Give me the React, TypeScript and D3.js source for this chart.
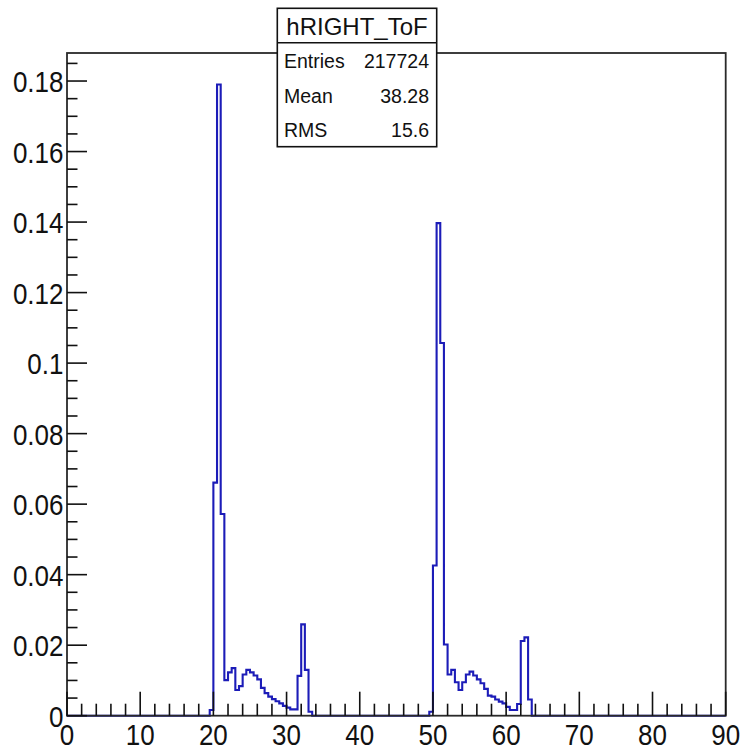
import React from "react";
import * as d3 from "d3";

// Histogram binning (hRIGHT_ToF): 180 bins of width 0.5 over [0, 90]
const binLow = 0;
const binHigh = 90;
const binWidth = 0.5;

// Normalised bin contents of the first bunch, starting at x = 19.5
const bunchAStart = 19.5;
const bunchA = [
  0.0016, 0.0661, 0.179, 0.0572, 0.0101, 0.0123, 0.0135, 0.0073, 0.0084, 0.0117,
  0.013, 0.0123, 0.0114, 0.0103, 0.0079, 0.0064, 0.0054, 0.0047, 0.0041, 0.0035,
  0.0028, 0.0023, 0.0018, 0.0018, 0.0113, 0.0259, 0.013, 0.0011,
];

// Normalised bin contents of the second bunch, starting at x = 49.5
const bunchBStart = 49.5;
const bunchB = [
  0.0011, 0.0426, 0.1397, 0.1057, 0.0202, 0.0117, 0.013, 0.0095, 0.0073, 0.0095,
  0.0117, 0.0125, 0.0114, 0.0103, 0.0092, 0.0076, 0.0057, 0.0054, 0.0046, 0.004,
  0.0035, 0.0025, 0.0016, 0.0016, 0.0033, 0.0212, 0.0222, 0.0046,
];

const xTickValues = [0, 10, 20, 30, 40, 50, 60, 70, 80, 90];
const yTickValues = [0, 0.02, 0.04, 0.06, 0.08, 0.1, 0.12, 0.14, 0.16, 0.18];
const yTickLabels = ["0", "0.02", "0.04", "0.06", "0.08", "0.1", "0.12", "0.14", "0.16", "0.18"];

const statsTitle = "hRIGHT_ToF";
const statsNames = ["Entries", "Mean", "RMS"];
const statsValues = ["217724", "38.28", "15.6"];

// y range follows ROOT's default: 5% headroom above the tallest bin
const yMax = 0.179 * 1.05;

const W = 745;
const H = 748;
const frame = { left: 67, right: 725.7, top: 53, bottom: 715.7 };
const font = "'Liberation Sans', Arial, Helvetica, sans-serif";
const histColor = "#1c1cb8";

function buildBins(): number[] {
  const n = Math.round((binHigh - binLow) / binWidth);
  const counts = new Array(n).fill(0);
  const place = (start: number, vals: number[]) => {
    const i0 = Math.round((start - binLow) / binWidth);
    vals.forEach((v, k) => {
      counts[i0 + k] = v;
    });
  };
  place(bunchAStart, bunchA);
  place(bunchBStart, bunchB);
  return counts;
}

export default function App() {
  const x = d3.scaleLinear().domain([binLow, binHigh]).range([frame.left, frame.right]);
  const y = d3.scaleLinear().domain([0, yMax]).range([frame.bottom, frame.top]);

  const counts = buildBins();
  const pts: [number, number][] = counts.map((c, i) => [binLow + i * binWidth, c]);
  pts.push([binHigh, counts[counts.length - 1]]);
  const path = d3
    .line<[number, number]>()
    .x((d) => x(d[0]))
    .y((d) => y(d[1]))
    .curve(d3.curveStepAfter)(pts) as string;

  const xMinor = d3.range(binLow, binHigh + 0.001, 2).filter((v) => v % 10 !== 0);
  const yMinor = d3.range(0, yMax, 0.005).filter((v) => Math.abs(v / 0.02 - Math.round(v / 0.02)) > 1e-6);

  const box = { x: 277.3, y: 8.3, w: 159.4, h: 138.4, sep: 42.7 };
  const rowBase = [68, 102.5, 137];

  return (
    <svg
      width={W}
      height={H}
      style={{ position: "absolute", left: 0, top: 0, background: "#fff" }}
      fontFamily={font}
    >
      <rect x={0} y={0} width={W} height={H} fill="#fff" />

      {/* histogram outline */}
      <path d={path} fill="none" stroke={histColor} strokeWidth={2.1} />

      {/* frame */}
      <rect
        x={frame.left}
        y={frame.top}
        width={frame.right - frame.left}
        height={frame.bottom - frame.top}
        fill="none"
        stroke="#2a2a2a"
        strokeWidth={1.8}
      />

      {/* axis ticks */}
      <g stroke="#111" strokeWidth={1.6}>
        {xTickValues.map((v) => (
          <line key={"xM" + v} x1={x(v)} x2={x(v)} y1={frame.bottom} y2={frame.bottom - 24} />
        ))}
        {xMinor.map((v) => (
          <line key={"xm" + v} x1={x(v)} x2={x(v)} y1={frame.bottom} y2={frame.bottom - 12} />
        ))}
        {yTickValues.map((v) => (
          <line key={"yM" + v} x1={frame.left} x2={frame.left + 20} y1={y(v)} y2={y(v)} />
        ))}
        {yMinor.map((v) => (
          <line key={"ym" + v} x1={frame.left} x2={frame.left + 10.5} y1={y(v)} y2={y(v)} />
        ))}
      </g>

      {/* x tick labels */}
      <g fontSize={26} fill="#111" textAnchor="middle">
        {xTickValues.map((v) => (
          <text key={"xl" + v} transform={`translate(${x(v)},744.5) scale(1,1.17)`}>
            {v}
          </text>
        ))}
      </g>

      {/* y tick labels */}
      <g fontSize={26} fill="#111" textAnchor="end">
        {yTickValues.map((v, i) => (
          <text key={"yl" + v} transform={`translate(63.5,${y(v) + 11}) scale(1,1.17)`}>
            {yTickLabels[i]}
          </text>
        ))}
      </g>

      {/* statistics box */}
      <g>
        <rect x={box.x} y={box.y} width={box.w} height={box.h} fill="#fff" stroke="#111" strokeWidth={1.6} />
        <line x1={box.x} x2={box.x + box.w} y1={box.sep} y2={box.sep} stroke="#111" strokeWidth={1.6} />
        <text
          x={box.x + box.w / 2}
          y={35}
          fontSize={24}
          textAnchor="middle"
          fill="#111"
        >
          {statsTitle}
        </text>
        {statsNames.map((name, i) => (
          <g key={name} fontSize={19.5} fill="#111">
            <text x={284} y={rowBase[i]}>
              {name}
            </text>
            <text x={429} y={rowBase[i]} textAnchor="end">
              {statsValues[i]}
            </text>
          </g>
        ))}
      </g>
    </svg>
  );
}
